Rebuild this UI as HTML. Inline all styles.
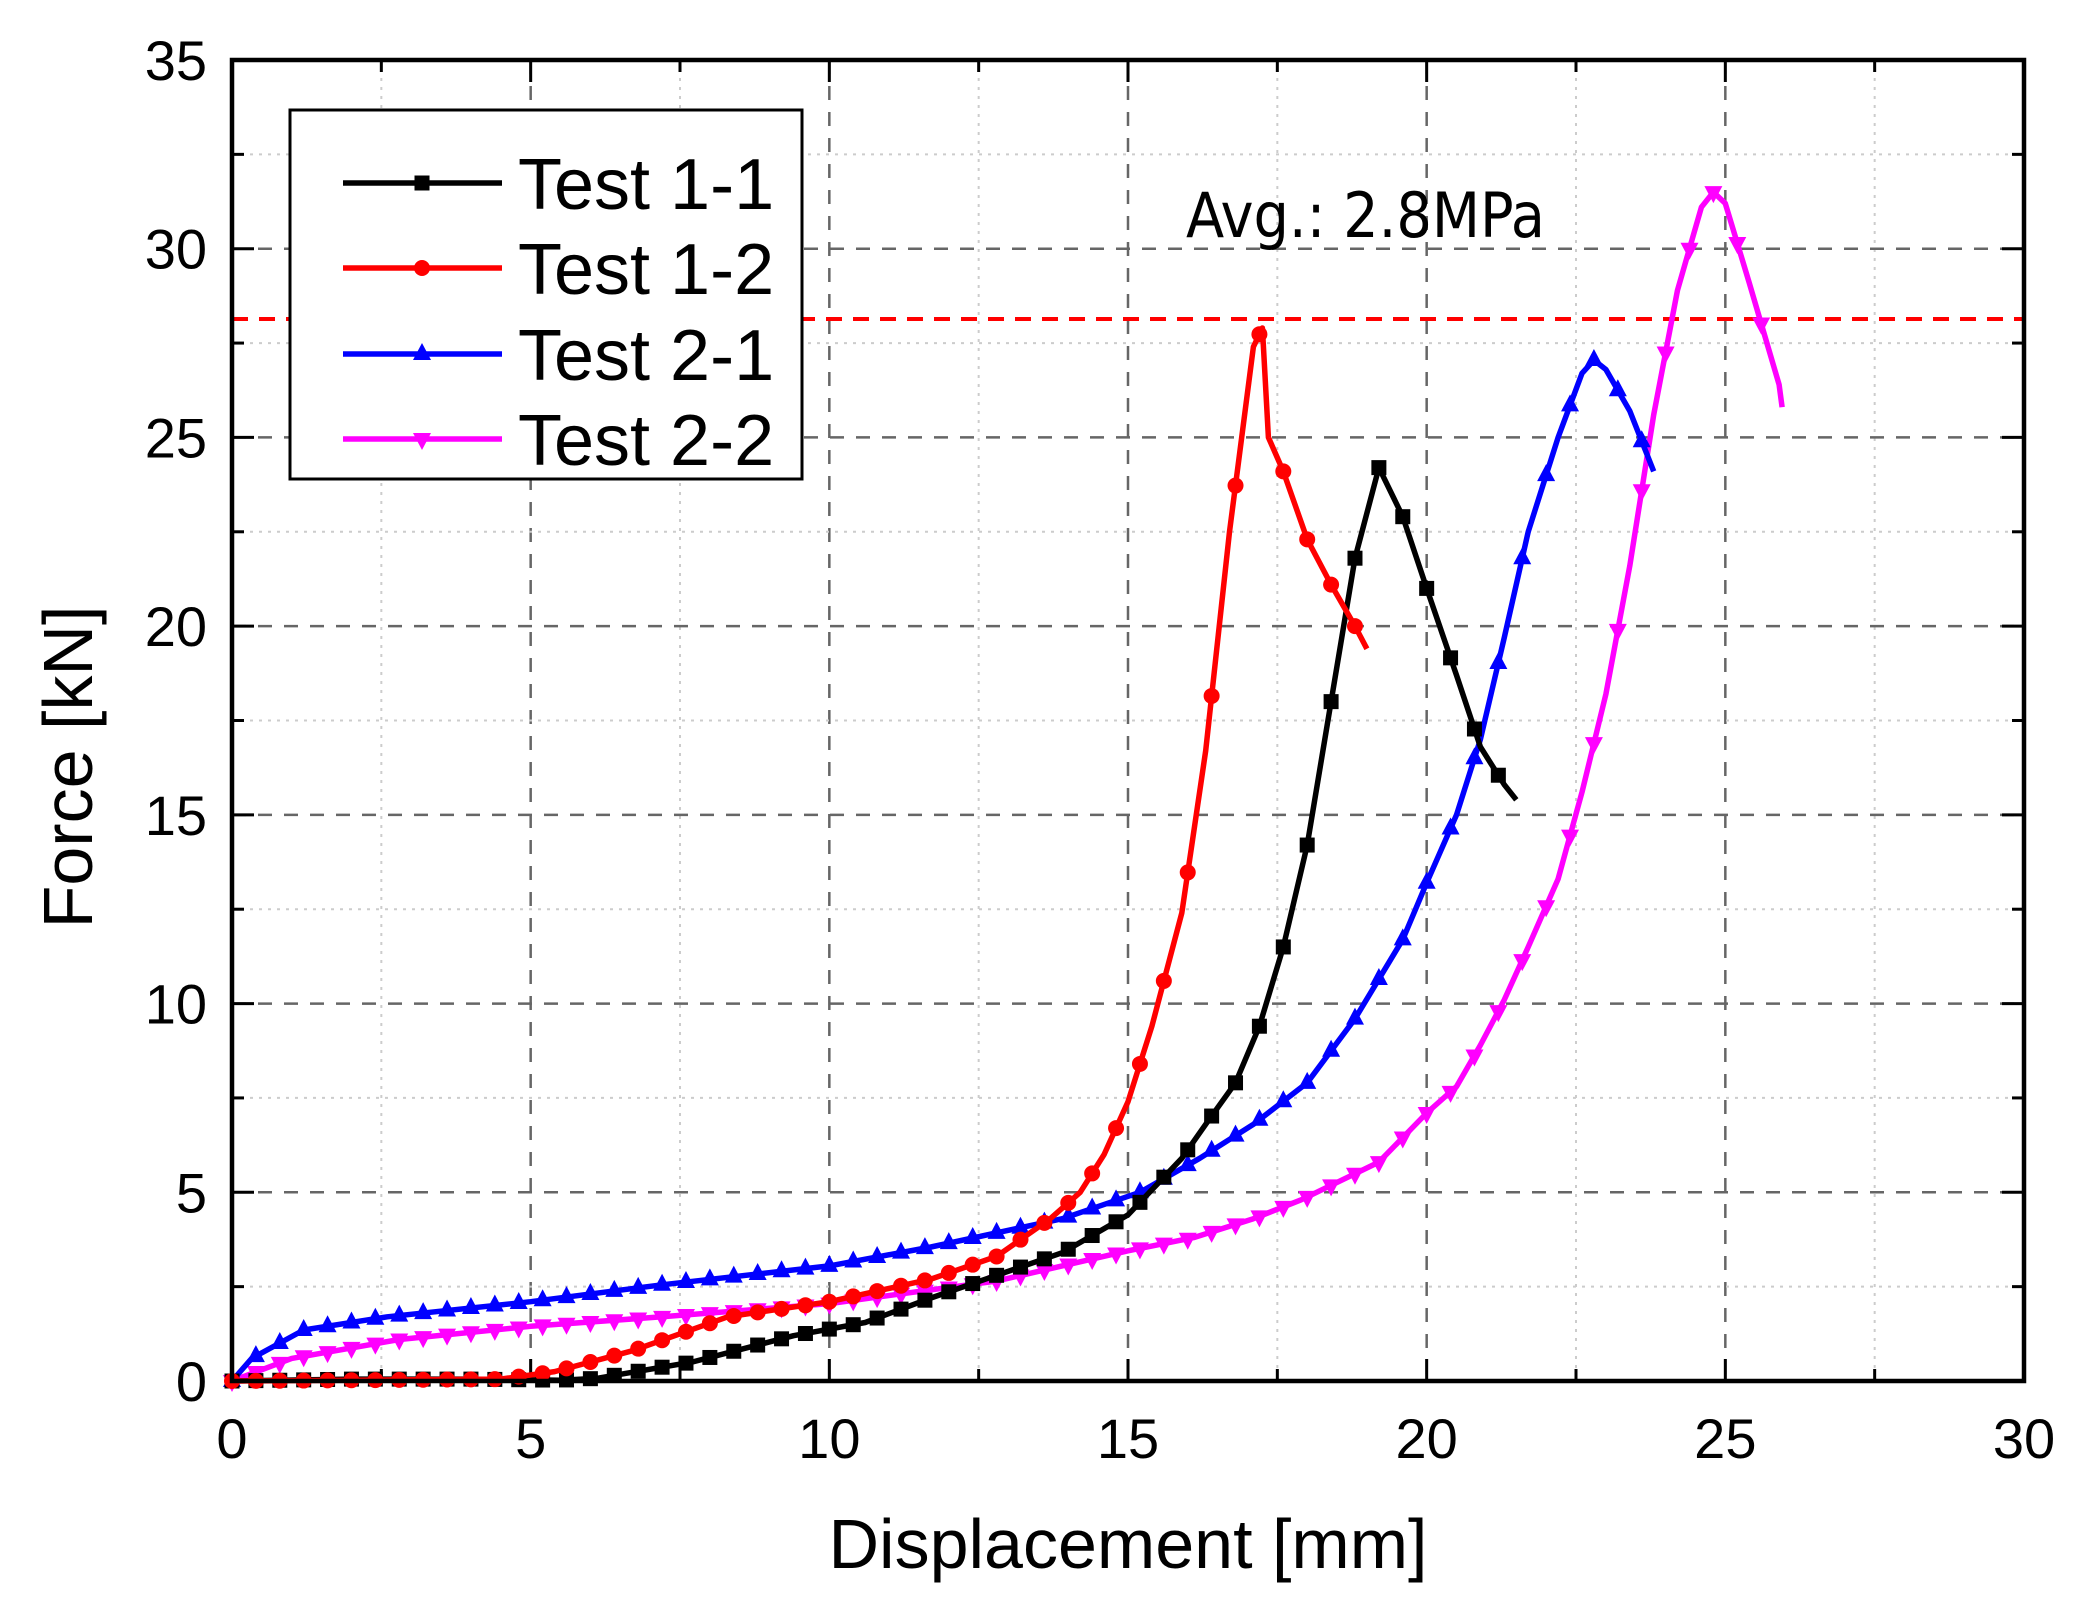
<!DOCTYPE html>
<html><head><meta charset="utf-8"><style>
html,body{margin:0;padding:0;background:#fff;}
svg{display:block;font-family:"Liberation Sans",Arial,sans-serif;}
</style></head><body>
<svg id="s" width="2081" height="1615" viewBox="0 0 2081 1615" xmlns="http://www.w3.org/2000/svg"></svg>
<script>
const S=document.getElementById('s');
const X0=232,X1=2024,Y0=1381,YT=60;
const X=x=>X0+(X1-X0)*x/30, Y=y=>Y0-(Y0-YT)*y/35;
let h='';
for(let i=1;i<12;i++){const x=X(i*2.5);const maj=i%2==0;
 h+=`<line x1="${x}" y1="${YT}" x2="${x}" y2="${Y0}" stroke="${maj?'#666':'#ccc'}" stroke-width="${maj?2.5:2}" stroke-dasharray="${maj?'14 12':'3 6'}"/>`;}
for(let i=1;i<14;i++){const y=Y(i*2.5);const maj=i%2==0;
 h+=`<line x1="${X0}" y1="${y}" x2="${X1}" y2="${y}" stroke="${maj?'#666':'#ccc'}" stroke-width="${maj?2.5:2}" stroke-dasharray="${maj?'14 12':'3 6'}"/>`;}
for(let i=0;i<=12;i++){const x=X(i*2.5),L=i%2?12:22;
 h+=`<line x1="${x}" y1="${Y0}" x2="${x}" y2="${Y0-L}" stroke="#000" stroke-width="3"/><line x1="${x}" y1="${YT}" x2="${x}" y2="${YT+L}" stroke="#000" stroke-width="3"/>`;}
for(let i=0;i<=14;i++){const y=Y(i*2.5),L=i%2?12:22;
 h+=`<line x1="${X0}" y1="${y}" x2="${X0+L}" y2="${y}" stroke="#000" stroke-width="3"/><line x1="${X1}" y1="${y}" x2="${X1-L}" y2="${y}" stroke="#000" stroke-width="3"/>`;}
for(let i=0;i<=6;i++){h+=`<text x="${X(i*5)}" y="1458" font-size="56" text-anchor="middle">${i*5}</text>`;}
for(let i=0;i<=7;i++){h+=`<text x="207" y="${Y(i*5)+20}" font-size="56" text-anchor="end">${i*5}</text>`;}
h+=`<text x="1128" y="1568" font-size="70" text-anchor="middle">Displacement [mm]</text>`;
h+=`<text transform="translate(92,767) rotate(-90)" font-size="70" text-anchor="middle">Force [kN]</text>`;
h+=`<line x1="${X0}" y1="319" x2="${X1}" y2="319" stroke="#f00" stroke-width="4" stroke-dasharray="16 11"/>`;
h+=`<text x="1186" y="237" font-size="62" font-family="'DejaVu Sans Condensed','Liberation Sans',sans-serif">Avg.: 2.8MPa</text>`;
const D={
k:[[0,0],[2,0.05],[4,0.05],[5.5,0.02],[6.1,0.07],[7.7,0.5],[9.4,1.2],[10.6,1.55],[11.7,2.2],[12.8,2.8],[13.9,3.4],[15,4.4],[15.9,5.9],[16.3,6.8],[16.8,7.9],[17.2,9.4],[17.6,11.5],[18.0,14.2],[18.4,18.0],[18.8,21.8],[19.2,24.2],[19.6,22.9],[20.0,21.0],[20.5,18.7],[20.9,16.8],[21.3,15.8],[21.5,15.4]],
r:[[0,0],[2,0.02],[4.5,0.05],[5.4,0.25],[6.7,0.8],[8.3,1.7],[10,2.1],[11.7,2.7],[12.8,3.3],[13.7,4.3],[14.2,5.0],[14.6,6.0],[15.0,7.4],[15.4,9.4],[15.9,12.4],[16.3,16.7],[16.7,22.5],[17.1,27.4],[17.25,27.9],[17.35,25.0],[17.6,24.1],[18.0,22.3],[18.4,21.1],[18.8,20.0],[19.0,19.4]],
b:[[0,0],[0.33,0.6],[1.2,1.35],[2.6,1.7],[5,2.1],[7.2,2.55],[10,3.05],[11.7,3.55],[13.9,4.3],[15.2,5.0],[16.2,5.9],[17.1,6.8],[18.0,7.9],[18.8,9.6],[19.6,11.7],[20.0,13.2],[20.5,15.0],[20.9,17.0],[21.3,19.7],[21.7,22.5],[22.2,25.0],[22.6,26.7],[22.8,27.05],[23.0,26.8],[23.4,25.7],[23.8,24.1]],
m:[[0,0],[1,0.6],[2.8,1.1],[5,1.45],[7.2,1.7],[10,2.05],[12.8,2.65],[15,3.45],[16.1,3.8],[17.1,4.3],[17.9,4.8],[19.2,5.8],[20.0,7.1],[20.5,7.8],[20.9,8.9],[21.3,10.1],[21.7,11.5],[22.2,13.3],[22.6,15.6],[23.0,18.2],[23.4,21.6],[23.8,25.6],[24.2,28.9],[24.6,31.1],[24.8,31.5],[25.0,31.2],[25.4,29.1],[25.9,26.4],[25.95,25.8]]};
const C={k:'#000',r:'#f00',b:'#00f',m:'#f0f'};
function mk(t,x,y,c){
 if(t=='k')return `<rect x="${x-7.5}" y="${y-7.5}" width="15" height="15" fill="${c}"/>`;
 if(t=='r')return `<circle cx="${x}" cy="${y}" r="8" fill="${c}"/>`;
 if(t=='b')return `<polygon points="${x},${y-11} ${x-9},${y+6} ${x+9},${y+6}" fill="${c}"/>`;
 return `<polygon points="${x},${y+11} ${x-9},${y-6} ${x+9},${y-6}" fill="${c}"/>`;}
['m','b','k','r'].forEach(t=>{const p=D[t],c=C[t];
 h+=`<polyline fill="none" stroke="${c}" stroke-width="5.5" stroke-linejoin="round" points="${p.map(q=>X(q[0]).toFixed(1)+','+Y(q[1]).toFixed(1)).join(' ')}"/>`;
 const step=0.4;let mx=0;
 for(let i=1;i<p.length;i++){const a=p[i-1],b=p[i];const dx=b[0]-a[0];if(dx<=0)continue;
  while(mx<=b[0]){if(mx>=a[0]){const tt=(mx-a[0])/dx;h+=mk(t,X(mx),Y(a[1]+tt*(b[1]-a[1])),c);}mx+=step;}}
});
h+=`<rect x="${X0}" y="${YT}" width="${X1-X0}" height="${Y0-YT}" fill="none" stroke="#000" stroke-width="4.5"/>`;
h+=`<rect x="290" y="110" width="512" height="369" fill="#fff" stroke="#000" stroke-width="3"/>`;
const lg=[['k','Test 1-1',183],['r','Test 1-2',268],['b','Test 2-1',354],['m','Test 2-2',439]];
lg.forEach(([t,s,y])=>{h+=`<line x1="343" y1="${y}" x2="502" y2="${y}" stroke="${C[t]}" stroke-width="5.5"/>`+mk(t,422,y,C[t])+`<text x="518" y="${y+26}" font-size="72">${s}</text>`;});
S.innerHTML=h;
</script>
</body></html>
